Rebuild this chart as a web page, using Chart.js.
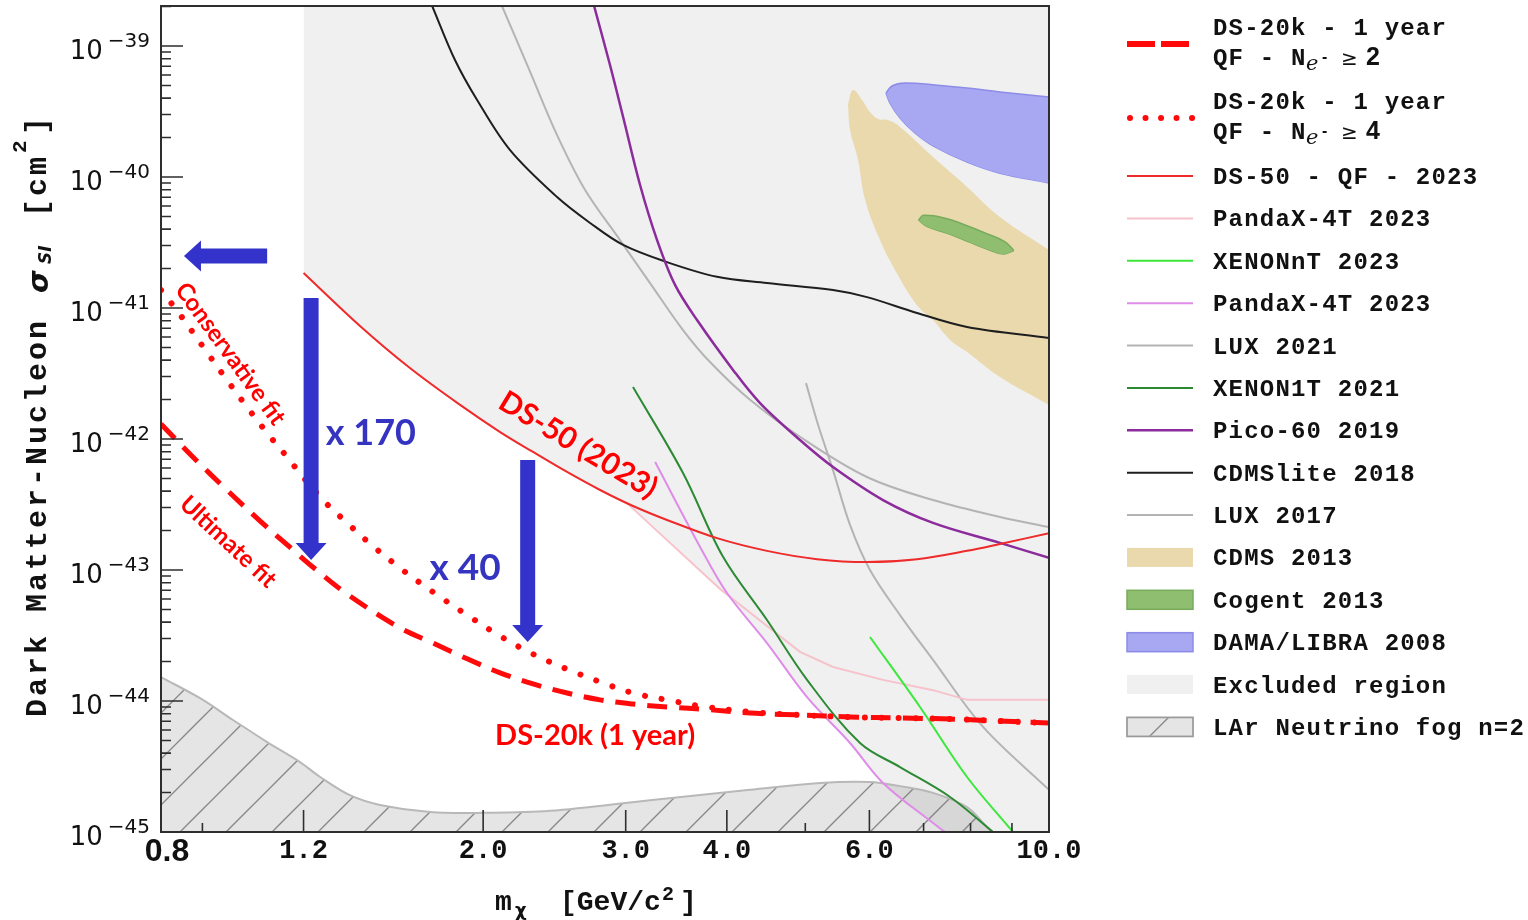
<!DOCTYPE html>
<html>
<head>
<meta charset="utf-8">
<title>DarkSide-20k low-mass WIMP sensitivity</title>
<script src="https://cdn.jsdelivr.net/npm/chart.js@4.4.1/dist/chart.umd.min.js"></script>
<style>
  html, body { margin: 0; padding: 0; background: #ffffff; }
  canvas { display: block; }
</style>
</head>
<body>
<canvas id="limits" width="1528" height="920"></canvas>
<script>
// ---------------------------------------------------------------
// Axis ranges: WIMP mass [GeV/c^2], SI WIMP-nucleon cross-section [cm^2]
// ---------------------------------------------------------------
const massRange = [0.8, 10];
const sigmaRange = [1e-45, 2.02e-39];

// Axis tick layout
const massLabelValues = [0.8, 1.2, 2, 3, 4, 6, 10];
const massLabels = ['0.8', '1.2', '2.0', '3.0', '4.0', '6.0', '10.0'];
const massMajorTicks = [1.2, 2, 3, 4, 6];
const massMinorTicks = [0.9, 5, 7, 8, 9];
const sigmaDecades = [-45, -44, -43, -42, -41, -40, -39];

// ---------------------------------------------------------------
// Limit / projection curves, as [mass, sigma] pairs
// ---------------------------------------------------------------
const ds20kUltimate = [[0.8,1.30e-42],[0.876,7.29e-43],[0.965,4.08e-43],[1.060,2.37e-43],[1.165,1.42e-43],[1.233,1.05e-43],[1.358,6.56e-44],[1.579,3.61e-44],[1.734,2.77e-44],[1.911,2.10e-44],[2.099,1.64e-44],[2.305,1.35e-44],[2.539,1.15e-44],[2.789,1.02e-44],[3.063,9.48e-45],[3.374,9.0e-45],[3.707,8.69e-45],[4.273,8.09e-45],[4.925,7.82e-45],[5.678,7.55e-45],[6.546,7.41e-45],[7.547,7.29e-45],[8.698,7.03e-45],[10,6.79e-45]];

const ds20kConservative = [[0.8,1.37e-41],[0.845,8.85e-42],[0.902,5.04e-42],[0.965,2.82e-42],[1.022,1.75e-42],[1.082,1.11e-42],[1.145,7.29e-43],[1.198,5.13e-43],[1.268,3.42e-43],[1.358,2.29e-43],[1.462,1.52e-43],[1.579,1.035e-43],[1.734,6.79e-44],[1.911,4.53e-44],[2.099,3.13e-44],[2.305,2.28e-44],[2.539,1.75e-44],[2.789,1.40e-44],[3.063,1.15e-44],[3.374,1.02e-44],[3.707,9.16e-45],[4.273,8.24e-45],[4.925,7.82e-45],[5.678,7.55e-45],[6.546,7.41e-45],[7.547,7.29e-45],[8.698,7.03e-45],[10,6.79e-45]];

const ds50 = [[1.2,1.85e-41],[1.409,7.29e-42],[1.624,3.48e-42],[1.873,1.82e-42],[2.099,1.13e-42],[2.305,7.96e-43],[2.539,5.60e-43],[2.789,4.08e-43],[3.063,3.08e-43],[3.374,2.41e-43],[3.890,1.75e-43],[4.484,1.40e-43],[5.170,1.21e-43],[5.959,1.15e-43],[6.870,1.21e-43],[7.921,1.40e-43],[8.698,1.58e-43],[10,1.91e-43]];

const pandax4tNR = [[3.011,3.24e-43],[3.923,7.16e-44],[4.925,2.37e-44],[5.410,1.82e-44],[6.237,1.45e-44],[7.190,1.21e-44],[7.921,1.02e-44],[10,1.02e-44]];

const xenonnt2023 = [[6.010,3.08e-44],[6.929,9.0e-45],[7.921,2.63e-45],[9.027,1e-45]];

const pandax4tMigdal = [[3.262,6.67e-43],[3.707,1.50e-43],[4.002,6.67e-44],[4.484,2.77e-44],[5.025,1.07e-44],[5.678,4.78e-45],[6.237,2.37e-45],[7.190,1.17e-45],[7.441,1e-45]];

const lux2021 = [[5.010,2.67e-42],[5.186,1.28e-42],[5.410,5.79e-43],[5.678,2.21e-43],[6.010,1.00e-43],[6.546,4.53e-44],[7.190,2.06e-44],[8.290,6.34e-45],[10,2.10e-45]];

const xenon1t2021 = [[3.063,2.49e-42],[3.531,5.50e-43],[3.957,1.26e-43],[4.484,4.15e-44],[5.025,1.45e-44],[5.842,4.78e-45],[6.546,3.13e-45],[7.547,1.85e-45],[8.529,1e-45]];

const pico60 = [[2.742,2.02e-39],[2.869,7.16e-40],[2.978,2.87e-40],[3.125,8.69e-41],[3.280,3.30e-41],[3.452,1.50e-41],[3.675,8.09e-42],[4.071,3.37e-42],[4.396,1.88e-42],[4.925,9.82e-43],[5.410,6.11e-43],[6.237,3.42e-43],[7.190,2.29e-43],[8.698,1.61e-43],[10,1.24e-43]];

const cdmslite2018 = [[1.730,2.02e-39],[1.846,7.82e-40],[1.966,3.87e-40],[2.158,1.61e-40],[2.468,7.03e-41],[2.711,4.46e-41],[2.978,3.03e-41],[3.374,2.24e-41],[3.890,1.73e-41],[4.484,1.55e-41],[5.410,1.37e-41],[5.959,1.21e-41],[6.870,9.16e-42],[7.921,7.16e-42],[10,5.90e-42]];

const lux2017 = [[2.110,2.02e-39],[2.286,6.34e-40],[2.468,2.09e-40],[2.673,7.96e-41],[2.952,3.30e-41],[3.215,1.55e-41],[3.531,6.79e-42],[3.813,3.87e-42],[4.273,1.99e-42],[4.925,1.04e-42],[5.959,5.13e-43],[7.190,3.42e-43],[8.698,2.54e-43],[10,2.13e-43]];

// Signal-claim contours: upper and lower edges
const cdms2013Upper = [[5.646,3.60e-40],[5.727,4.61e-40],[5.876,3.87e-40],[6.010,3.13e-40],[6.148,2.77e-40],[6.326,2.72e-40],[6.546,2.41e-40],[7.190,1.42e-40],[7.921,8.4e-41],[8.698,4.95e-41],[10,2.77e-41]];
const cdms2013Lower = [[5.646,3.60e-40],[5.678,2.29e-40],[5.809,1.35e-40],[5.928,6.67e-41],[6.184,3.30e-41],[6.453,1.95e-41],[6.870,1.05e-41],[7.190,8.09e-42],[7.547,5.70e-42],[7.921,4.61e-42],[8.698,2.97e-42],[10,1.82e-42]];

const cogent2013Upper = [[6.900,4.70e-41],[7.000,5.10e-41],[7.441,4.85e-41],[7.876,4.30e-41],[8.337,3.74e-41],[8.825,3.20e-41],[9.050,2.75e-41]];
const cogent2013Lower = [[6.900,4.70e-41],[7.060,4.20e-41],[7.505,3.70e-41],[7.943,3.22e-41],[8.409,2.80e-41],[8.774,2.58e-41],[9.050,2.75e-41]];

const dama2008Upper = [[6.290,4.38e-40],[6.398,4.95e-40],[6.639,5.22e-40],[7.232,5.04e-40],[7.921,4.78e-40],[8.698,4.46e-40],[10,4.08e-40]];
const dama2008Lower = [[6.290,4.38e-40],[6.362,3.67e-40],[6.546,2.82e-40],[6.830,2.17e-40],[7.190,1.73e-40],[7.921,1.30e-40],[8.698,1.07e-40],[10,9.0e-41]];

// Lower envelope of the existing limits (excluded above)
const excludedEdge = [[1.2,1.85e-41],[1.409,7.29e-42],[1.624,3.48e-42],[1.873,1.82e-42],[2.099,1.13e-42],[2.305,7.96e-43],[2.539,5.60e-43],[2.789,4.08e-43],[3.011,3.24e-43],[3.923,7.16e-44],[4.002,6.56e-44],[4.484,2.77e-44],[5.025,1.07e-44],[5.678,4.78e-45],[6.237,2.37e-45],[7.190,1.17e-45],[7.441,1e-45],[10,1e-45]];

// LAr neutrino fog (n = 2) upper edge
const neutrinoFog = [[0.8,1.52e-44],[0.894,1.05e-44],[0.982,7.16e-45],[1.082,4.86e-45],[1.188,3.42e-45],[1.258,2.63e-45],[1.369,1.91e-45],[1.491,1.61e-45],[1.720,1.42e-45],[2.0,1.40e-45],[2.419,1.45e-45],[3.215,1.75e-45],[4.273,2.10e-45],[5.217,2.37e-45],[6.010,2.41e-45],[6.546,2.24e-45],[7.190,1.99e-45],[7.921,1.55e-45],[8.337,1.13e-45],[8.505,1e-45]];

// ---------------------------------------------------------------
// Helpers
// ---------------------------------------------------------------
const pts = arr => arr.map(([x, y]) => ({ x, y }));

function makeHatch() {
  const s = 46;
  const tile = document.createElement('canvas');
  tile.width = s; tile.height = s;
  const g = tile.getContext('2d');
  g.fillStyle = 'rgba(0,0,0,0.10)';
  g.fillRect(0, 0, s, s);
  g.strokeStyle = 'rgba(105,105,105,0.75)';
  g.lineWidth = 1.4;
  g.beginPath();
  g.moveTo(-3, s + 3); g.lineTo(s + 3, -3);
  g.moveTo(-3, 3); g.lineTo(3, -3);
  g.moveTo(s - 3, s + 3); g.lineTo(s + 3, s - 3);
  g.stroke();
  return document.getElementById('limits').getContext('2d').createPattern(tile, 'repeat');
}
const hatch = makeHatch();

const curve = (label, data, color, width, extra) => Object.assign({
  label, data: pts(data), borderColor: color, borderWidth: width,
  backgroundColor: color, fill: false, pointRadius: 0, tension: 0.35, order: 5
}, extra || {});

const RED = '#ff0a0a';

const datasets = [
  curve('DS-20k - 1 year', ds20kUltimate, RED, 5, { borderDash: [20, 12], order: 1 }),               // 0
  curve('DS-20k - 1 year', ds20kConservative, RED, 6, { borderDash: [0.01, 17], borderCapStyle: 'round', order: 2 }), // 1
  curve('DS-50 - QF - 2023', ds50, '#ee2a2a', 2, { order: 3 }),                                    // 2
  curve('PandaX-4T 2023', pandax4tNR, '#f6c2cb', 2, { tension: 0, order: 6 }),                      // 3
  curve('XENONnT 2023', xenonnt2023, '#3be83b', 2),                                                 // 4
  curve('PandaX-4T 2023', pandax4tMigdal, '#de8ce8', 2),                                            // 5
  curve('LUX 2021', lux2021, '#b4b4b4', 2, { order: 7 }),                                           // 6
  curve('XENON1T 2021', xenon1t2021, '#2d8a34', 2),                                                 // 7
  curve('Pico-60 2019', pico60, '#8c2b9c', 2.5),                                                    // 8
  curve('CDMSlite 2018', cdmslite2018, '#1e1e1e', 2),                                               // 9
  curve('LUX 2017', lux2017, '#b4b4b4', 2, { order: 7 }),                                           // 10
  curve('CDMS 2013', cdms2013Upper, 'transparent', 0, { backgroundColor: 'rgb(233,217,173)', fill: '+1', tension: 0.4, order: 80 }), // 11
  curve('CDMS 2013 edge', cdms2013Lower, 'transparent', 0, { tension: 0.4, order: 80 }),           // 12
  curve('Cogent 2013', cogent2013Upper, 'rgb(120,172,92)', 1.5, { backgroundColor: 'rgb(143,190,112)', fill: '+1', tension: 0.4, order: 70 }), // 13
  curve('Cogent 2013 edge', cogent2013Lower, 'rgb(120,172,92)', 1.5, { tension: 0.4, order: 70 }), // 14
  curve('DAMA/LIBRA 2008', dama2008Upper, 'rgb(140,140,232)', 1.5, { backgroundColor: 'rgb(168,168,242)', fill: '+1', tension: 0.4, order: 75 }), // 15
  curve('DAMA/LIBRA 2008 edge', dama2008Lower, 'rgb(140,140,232)', 1.5, { tension: 0.4, order: 75 }), // 16
  curve('Excluded region', excludedEdge, 'transparent', 0, { backgroundColor: '#f0f0f0', fill: 'end', order: 100 }), // 17
  curve('LAr Neutrino fog n=2', neutrinoFog, '#b8b8b8', 2, { backgroundColor: hatch, fill: 'start', order: 90 })     // 18
];

// Legend rows (dataset indices), drawn at the right of the plot
const legendSingle = [2, 3, 4, 5, 6, 7, 8, 9, 10, 11, 13, 15, 17, 18];
const legendBoxes = [11, 13, 15, 17, 18];

// Annotation anchors in data space
const noteArrows = [
  { from: [1.082, 2.49e-41], to: [0.854, 2.49e-41] },
  { from: [1.226, 1.19e-41], to: [1.226, 1.19e-43] },
  { from: [2.270, 6.92e-43], to: [2.270, 2.82e-44] }
];
const noteTexts = [
  { text: 'Conservative fit', at: [0.974, 4.46e-42], angle: 54, font: 'bold 24px Lato, "Liberation Sans"', color: '#ff0000' },
  { text: 'Ultimate fit', at: [0.968, 1.64e-43], angle: 43, font: 'bold 24px Lato, "Liberation Sans"', color: '#ff0000' },
  { text: 'DS-50 (2023)', at: [2.619, 8.99e-43], angle: 31, font: 'bold 30px Lato, "Liberation Sans"', color: '#ff0000' },
  { text: 'DS-20k (1 year)', at: [2.750, 5.41e-45], angle: 0, font: 'bold 29px Lato, "Liberation Sans"', color: '#ff0000' },
  { text: 'x 170', at: [1.453, 1.11e-42], angle: 0, font: 'bold 36px Lato, "Liberation Sans"', color: '#3434c0' },
  { text: 'x 40', at: [1.900, 1.035e-43], angle: 0, font: 'bold 37px Lato, "Liberation Sans"', color: '#3434c0' }
];

function drawArrow(ctx, x1, y1, x2, y2, shaft, headW, headL) {
  const dx = x2 - x1, dy = y2 - y1, L = Math.hypot(dx, dy);
  const ux = dx / L, uy = dy / L, nx = -uy, ny = ux;
  const bx = x2 - ux * headL, by = y2 - uy * headL;
  ctx.beginPath();
  ctx.moveTo(x1 + nx * shaft / 2, y1 + ny * shaft / 2);
  ctx.lineTo(bx + nx * shaft / 2, by + ny * shaft / 2);
  ctx.lineTo(bx + nx * headW / 2, by + ny * headW / 2);
  ctx.lineTo(x2, y2);
  ctx.lineTo(bx - nx * headW / 2, by - ny * headW / 2);
  ctx.lineTo(bx - nx * shaft / 2, by - ny * shaft / 2);
  ctx.lineTo(x1 - nx * shaft / 2, y1 - ny * shaft / 2);
  ctx.closePath();
  ctx.fill();
}

// Annotations drawn on top of the curves
const notesPlugin = {
  id: 'notes',
  afterDatasetsDraw(chart) {
    const { ctx, scales: { x, y } } = chart;
    ctx.save();
    ctx.fillStyle = '#3333cc';
    noteArrows.forEach(a => {
      drawArrow(ctx, x.getPixelForValue(a.from[0]), y.getPixelForValue(a.from[1]),
        x.getPixelForValue(a.to[0]), y.getPixelForValue(a.to[1]), 15, 31, 17);
    });
    noteTexts.forEach(t => {
      ctx.save();
      ctx.translate(x.getPixelForValue(t.at[0]), y.getPixelForValue(t.at[1]));
      ctx.rotate(t.angle * Math.PI / 180);
      ctx.font = t.font;
      ctx.fillStyle = t.color;
      ctx.textAlign = 'center';
      ctx.textBaseline = 'middle';
      ctx.fillText(t.text, 0, 0);
      ctx.restore();
    });
    ctx.restore();
  }
};

// Frame, inward ticks, tick labels and axis titles
const axesPlugin = {
  id: 'axesFrame',
  afterDraw(chart) {
    const { ctx, chartArea: a, scales: { x, y } } = chart;
    ctx.save();
    ctx.strokeStyle = '#2e2e2e';
    ctx.lineWidth = 1.6;
    ctx.beginPath();
    sigmaDecades.forEach(d => {
      const py = y.getPixelForValue(Math.pow(10, d));
      ctx.moveTo(a.left, py); ctx.lineTo(a.left + 22, py);
      for (let m = 2; m <= 9; m++) {
        const v = m * Math.pow(10, d);
        if (v > sigmaRange[1]) break;
        const pm = y.getPixelForValue(v);
        ctx.moveTo(a.left, pm); ctx.lineTo(a.left + 10, pm);
      }
    });
    massMajorTicks.forEach(v => {
      const px = x.getPixelForValue(v);
      ctx.moveTo(px, a.bottom); ctx.lineTo(px, a.bottom - 22);
    });
    massMinorTicks.forEach(v => {
      const px = x.getPixelForValue(v);
      ctx.moveTo(px, a.bottom); ctx.lineTo(px, a.bottom - 9);
    });
    ctx.stroke();
    ctx.lineWidth = 2;
    ctx.strokeRect(a.left, a.top, a.right - a.left, a.bottom - a.top);

    // y tick labels: 10^n
    ctx.fillStyle = '#111';
    ctx.textBaseline = 'alphabetic';
    ctx.textAlign = 'right';
    sigmaDecades.forEach(d => {
      const py = y.getPixelForValue(Math.pow(10, d));
      const exp = '\u2212' + Math.abs(d);
      ctx.font = '20px "DejaVu Sans"';
      const w = ctx.measureText(exp).width;
      ctx.fillText(exp, 150, py + 1);
      ctx.font = '26px "DejaVu Sans"';
      ctx.fillText('10', 150 - w - 5, py + 13);
    });

    // x tick labels
    ctx.textAlign = 'center';
    massLabelValues.forEach((v, i) => {
      const px = x.getPixelForValue(v);
      if (i === 0) {
        ctx.font = 'bold 32px "Liberation Sans"';
        ctx.fillText(massLabels[i], px + 6, 861);
      } else {
        ctx.font = 'bold 27px "Liberation Mono"';
        ctx.fillText(massLabels[i], px, 858);
      }
    });

    // x title: m_chi [GeV/c^2]
    ctx.textAlign = 'left';
    ctx.font = 'bold 28px "Liberation Mono"';
    ctx.fillText('m', 495, 910);
    ctx.font = 'bold 18px "DejaVu Sans"';
    ctx.fillText('\u03c7', 515, 916);
    ctx.font = 'bold 28px "Liberation Mono"';
    ctx.fillText('[GeV/c', 560, 910);
    ctx.font = 'bold 20px "Liberation Mono"';
    ctx.fillText('2', 662, 900);
    ctx.font = 'bold 28px "Liberation Mono"';
    ctx.fillText(']', 680, 910);

    // y title: Dark Matter-Nucleon sigma_SI [cm^2]
    ctx.save();
    ctx.translate(46, 717);
    ctx.rotate(-Math.PI / 2);
    ctx.textAlign = 'left';
    ctx.font = 'bold 30px "Liberation Mono"';
    ctx.letterSpacing = '3px';
    ctx.fillText('Dark Matter-Nucleon', 0, 0);
    ctx.fillText('[cm', 500, 0);
    ctx.fillText(']', 582, 0);
    ctx.letterSpacing = '0px';
    ctx.font = 'bold italic 29px "DejaVu Sans"';
    ctx.fillText('\u03c3', 424, 2);
    ctx.font = 'italic bold 17px "DejaVu Sans"';
    ctx.fillText('SI', 453, 5);
    ctx.font = 'bold 21px "Liberation Mono"';
    ctx.fillText('2', 564, -20);
    ctx.restore();
    ctx.restore();
  }
};

// Side legend
const legendPlugin = {
  id: 'sideLegend',
  afterDraw(chart) {
    const ctx = chart.ctx;
    const ds = chart.data.datasets;
    const x0 = 1127, x1 = 1193, tx = 1213;
    const mono = 'bold 24px "Liberation Mono"';
    ctx.save();
    ctx.textAlign = 'left';
    ctx.textBaseline = 'alphabetic';

    const sampleLine = (d, cy, dash, width) => {
      ctx.save();
      ctx.strokeStyle = d.borderColor;
      ctx.lineWidth = width || d.borderWidth;
      ctx.lineCap = d.borderCapStyle || 'butt';
      ctx.setLineDash(dash || []);
      ctx.beginPath();
      ctx.moveTo(x0 + (d.borderCapStyle === 'round' ? 3 : 0), cy);
      ctx.lineTo(x1, cy);
      ctx.stroke();
      ctx.restore();
    };
    const monoText = (t, xx, yy) => {
      ctx.font = mono;
      ctx.letterSpacing = '1.2px';
      ctx.fillStyle = '#111';
      ctx.fillText(t, xx, yy);
      ctx.letterSpacing = '0px';
    };

    // DS-20k entries (two lines each)
    [[0, 44, [28, 6], '2'], [1, 118, [0.01, 15.5], '4']].forEach(([idx, cy, dash, n]) => {
      sampleLine(ds[idx], cy, dash, 6);
      monoText(ds[idx].label, tx, cy - 9);
      const by = cy + 21;
      monoText('QF - N', tx, by);
      ctx.font = 'italic 21px "DejaVu Serif"';
      ctx.fillText('e', 1306, by + 5);
      ctx.font = 'bold 16px "Liberation Sans"';
      ctx.fillText('-', 1322, by - 3);
      ctx.font = '20px "DejaVu Sans"';
      ctx.fillText('\u2265', 1341, by);
      ctx.font = 'bold 25px "Liberation Sans"';
      ctx.fillText(n, 1366, by);
    });

    legendSingle.forEach((idx, i) => {
      const d = ds[idx];
      const cy = 176 + i * 42.38;
      if (legendBoxes.includes(idx)) {
        ctx.fillStyle = '#ffffff';
        ctx.fillRect(x0, cy - 9.5, x1 - x0, 19);
        ctx.fillStyle = d.backgroundColor;
        ctx.fillRect(x0, cy - 9.5, x1 - x0, 19);
        if (d.borderWidth) {
          ctx.strokeStyle = d.borderColor;
          ctx.lineWidth = 1.5;
          ctx.strokeRect(x0, cy - 9.5, x1 - x0, 19);
        }
        if (idx === 18) {
          ctx.strokeStyle = '#9a9a9a';
          ctx.lineWidth = 1.5;
          ctx.strokeRect(x0, cy - 9.5, x1 - x0, 19);
        }
      } else {
        sampleLine(d, cy);
      }
      monoText(d.label, tx, cy + 8);
    });
    ctx.restore();
  }
};

new Chart(document.getElementById('limits'), {
  type: 'line',
  data: { datasets },
  options: {
    responsive: false,
    animation: false,
    devicePixelRatio: 1,
    parsing: true,
    layout: { padding: { left: 0, right: 479, top: 6, bottom: 0 } },
    elements: { point: { radius: 0 } },
    plugins: {
      legend: { display: false },
      tooltip: { enabled: false },
      filler: { propagate: false }
    },
    scales: {
      x: {
        type: 'logarithmic',
        min: massRange[0], max: massRange[1],
        grid: { display: false },
        border: { display: false },
        ticks: { display: false },
        afterFit: s => { s.height = 88; }
      },
      y: {
        type: 'logarithmic',
        min: sigmaRange[0], max: sigmaRange[1],
        grid: { display: false },
        border: { display: false },
        ticks: { display: false },
        afterFit: s => { s.width = 161; }
      }
    }
  },
  plugins: [notesPlugin, axesPlugin, legendPlugin]
});
</script>
</body>
</html>
